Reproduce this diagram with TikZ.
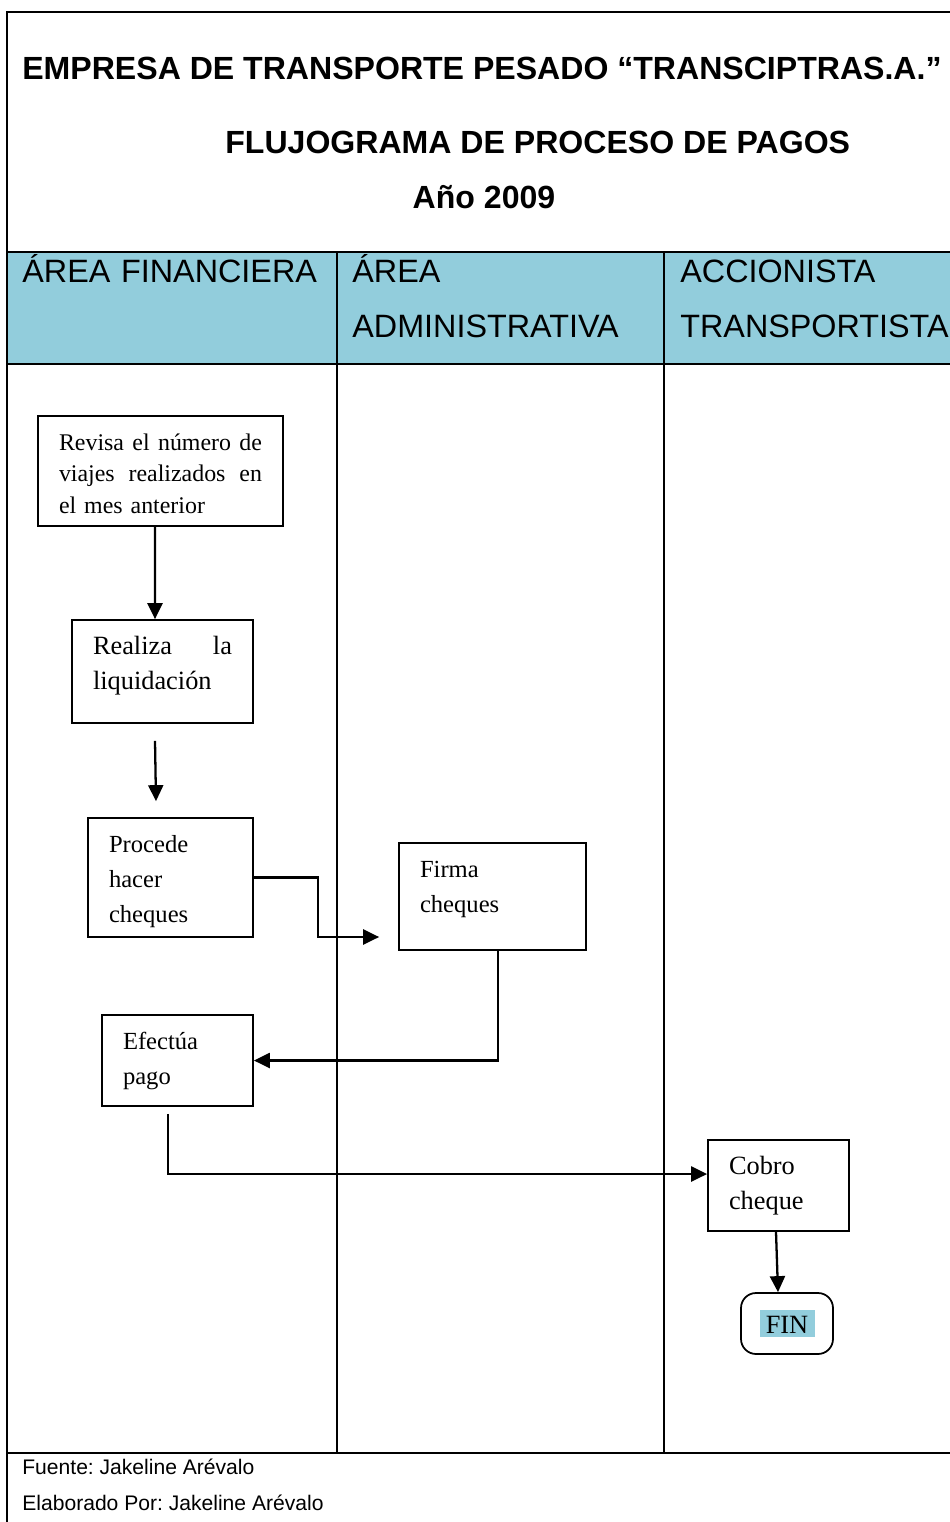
\documentclass[tikz,border=0pt]{standalone}
\usepackage{fontspec}
\setmainfont{Liberation Serif}
\newfontfamily\arialfont{Liberation Sans}
\usetikzlibrary{arrows.meta}
\definecolor{lanecol}{HTML}{92CDDC}
\frenchspacing

\begin{document}
\begin{tikzpicture}[x=0.02cm,y=-0.02cm,
    caja/.style={draw,line width=1pt,inner xsep=0.42cm,inner ysep=0pt,text height=0.68cm,align=left,font=\fontsize{14}{20}\selectfont},
    flecha/.style={line width=1.3pt,-{Triangle[length=0.32cm,width=0.3cm]}},
    titulo/.style={inner sep=0pt,font=\arialfont\bfseries\fontsize{18.25}{22}\selectfont},
    carril/.style={inner sep=0pt,anchor=base west,text width=6cm,align=left,font=\arialfont\fontsize{18.4}{31.3}\selectfont},
    pie/.style={inner sep=0pt,anchor=base west,font=\arialfont\fontsize{12}{14}\selectfont},
    marco/.style={line width=1.2pt}]
    \useasboundingbox (0,0) rectangle (950,1522);

    % marco y carriles
    \fill[lanecol] (7,252) rectangle (950,364);
    \draw[marco] (950,12) -- (7,12) -- (7,1522);
    \foreach \y in {252,364,1453} \draw[marco] (7,\y) -- (950,\y);
    \foreach \x in {337,664} \draw[marco] (\x,252) -- (\x,1453);

    % titulos
    \path (22,79) node [titulo,anchor=base west](empresa){EMPRESA DE TRANSPORTE PESADO “TRANSCIPTRAS.A.”};
    \path (225,153) node [titulo,anchor=base west](flujo){FLUJOGRAMA DE PROCESO DE PAGOS};
    \path (484,208) node [titulo,anchor=base](anio){Año 2009};

    \path (22,282) node [carril](financiera){ÁREA FINANCIERA};
    \path (352,282) node [carril](administrativa){ÁREA\\ADMINISTRATIVA};
    \path (680,282) node [carril](accionista){ACCIONISTA\\TRANSPORTISTA};

    % pasos
    \path (160.5,471) node [caja,text width=4.06cm,text depth=1.52cm,font=\fontsize{13.6}{18.2}\selectfont](revisa){Revisa\hfill el\hfill número\hfill de\\viajes\hfill realizados\hfill en\\el mes anterior};
    \path (162.5,671.5) node [caja,text width=2.78cm,text depth=1.38cm,font=\fontsize{15}{20}\selectfont](realiza){Realiza\hfill la\\liquidación};
    \path (170.5,877.5) node [caja,text width=2.46cm,text depth=1.70cm](procede){Procede\\hacer\\cheques};
    \path (492.5,896.5) node [caja,text width=2.90cm,text depth=1.46cm](firma){Firma\\cheques};
    \path (177.5,1060.5) node [caja,text width=2.18cm,text depth=1.14cm](efectua){Efectúa\\pago};
    \path (778.5,1185.5) node [caja,text width=1.98cm,text depth=1.14cm,font=\fontsize{15}{20}\selectfont](cobro){Cobro\\cheque};
    \path (787,1323.5) node [draw,line width=1pt,rounded corners=0.3cm,minimum width=1.84cm,minimum height=1.22cm,inner sep=0pt,font=\fontsize{15}{18}\selectfont](fin){\fboxsep=0pt\colorbox{lanecol}{\rule[-0.08cm]{0pt}{0.54cm}\makebox[1.1cm]{FIN}}};

    \draw[flecha] ([xshift=-0.11cm]revisa.south) -- ([xshift=-0.15cm]realiza.north);
    \draw[flecha] ([xshift=-0.15cm,yshift=-0.34cm]realiza.south) -- ([xshift=-0.29cm,yshift=0.32cm]procede.north);
    \draw[flecha] (procede.east) -- ++(64,0) |- ([xshift=-0.38cm,yshift=-0.81cm]firma.west);
    \draw[flecha] ([xshift=0.11cm]firma.south) |- (efectua.east);
    \draw[flecha] ([xshift=-0.19cm,yshift=-0.14cm]efectua.south) |- ([yshift=0.23cm]cobro.west);
    \draw[flecha] ([xshift=-0.05cm]cobro.south) -- ([xshift=-0.18cm]fin.north);

    % pie
    \path (22,1474) node [pie](fuente){Fuente: Jakeline Arévalo};
    \path (22,1510) node [pie](elaborado){Elaborado Por: Jakeline Arévalo};

  \end{tikzpicture}
\end{document}
